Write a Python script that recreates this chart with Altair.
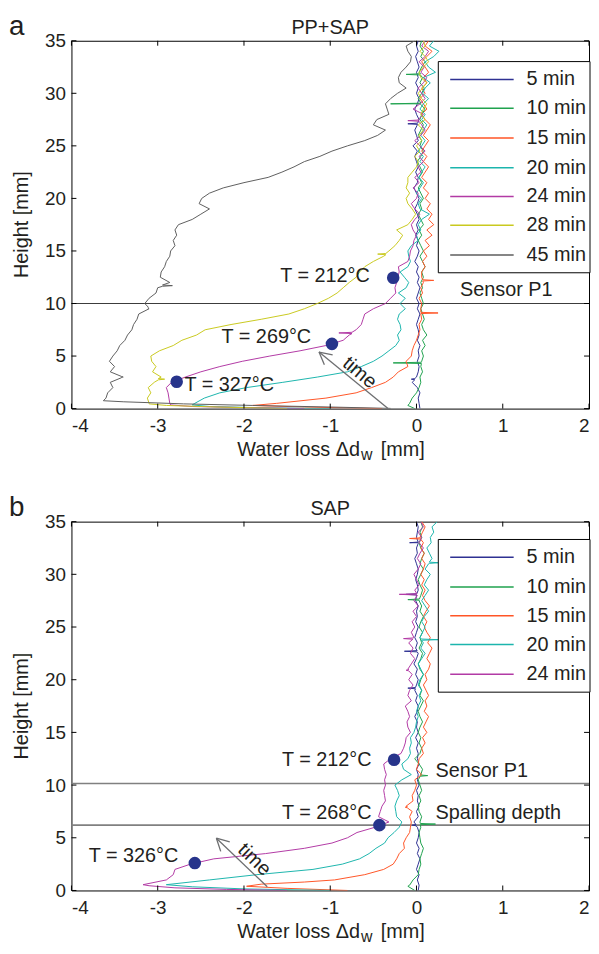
import math
import altair as alt
import pandas as pd

FONT = "Liberation Sans"
TXT = "#231f20"

# ---------------- shared height grid (mm) ----------------
HG = [0.0, 0.5, 1.0, 1.5, 2.0, 2.5, 3.0, 3.5, 4.0, 4.5,
      5.0, 5.5, 6.0, 6.5, 7.0, 7.5, 8.0, 8.5, 9.0, 9.5,
      10.0, 10.5, 11.0, 11.5, 12.0, 12.5, 13.0, 13.5, 14.0, 14.5,
      15.0, 15.5, 16.0, 16.5, 17.0, 17.5, 18.0, 18.5, 19.0, 19.5,
      20.0, 20.5, 21.0, 21.5, 22.0, 22.5, 23.0, 23.5, 24.0, 24.5,
      25.0, 25.5, 26.0, 26.5, 27.0, 27.5, 28.0, 28.5, 29.0, 29.5,
      30.0, 30.5, 31.0, 31.5, 32.0, 32.5, 33.0, 33.5, 34.0, 34.5, 35.0]

X_TICKS = [-4, -3, -2, -1, 0, 1, 2]
Y_TICKS = [0, 5, 10, 15, 20, 25, 30, 35]

NAMES_A = ["5 min", "10 min", "15 min", "20 min", "24 min", "28 min", "45 min"]
NAMES_B = ["5 min", "10 min", "15 min", "20 min", "24 min"]
COLORS = ["#2e3192", "#1fa24e", "#ff5526", "#1cb5ad", "#b23aa5", "#c9c91f", "#5e5e5e"]

# ================= panel a: PP+SAP =================
A05_FH, A05_FX = [], []
A05_X = [0.04, 0.03, 0.02, 0.04, 0.01, -0.05, 0.00, 0.02, 0.03, 0.01,
         0.03, 0.02, 0.04, 0.01, 0.03, 0.02, 0.00, 0.02, 0.04, 0.01,
         0.03, 0.00, 0.02, 0.04, 0.01, 0.03, 0.00, 0.02, -0.02, 0.01,
         0.03, 0.00, 0.02, -0.01, 0.02, 0.00, 0.03, 0.01, -0.02, 0.01,
         0.03, 0.00, -0.03, 0.01, 0.02, -0.01, 0.02, 0.00, -0.02, 0.01,
         -0.04, 0.02, 0.00, -0.02, 0.01, 0.03, 0.00, -0.02, 0.01, 0.03,
         0.00, 0.02, -0.01, 0.02, 0.00, 0.03, 0.01, -0.01, 0.02, 0.00, 0.02]
A05_SH, A05_SX = [2.8, 27.1], [-0.06, -0.10]

A10_FH, A10_FX = [0.0, 0.3], [-0.02, -0.10]
A10_X = [-0.08, -0.05, 0.00, 0.03, 0.05, 0.04, 0.07, 0.05, 0.06, 0.08,
         0.06, 0.10, 0.07, 0.12, 0.08, 0.06, 0.09, 0.07, 0.05, 0.08,
         0.06, 0.04, 0.07, 0.05, 0.08, 0.06, 0.10, 0.07, 0.04, 0.08,
         0.05, 0.02, 0.06, 0.03, 0.08, 0.05, 0.02, 0.06, 0.04, 0.08,
         0.05, 0.02, 0.06, 0.03, 0.07, 0.04, 0.01, 0.05, 0.08, 0.04,
         0.06, 0.02, 0.05, 0.08, 0.04, 0.06, 0.10, 0.05, 0.02, 0.06,
         0.09, 0.04, 0.07, 0.03, 0.06, 0.10, 0.05, 0.08, 0.04, 0.06]
A10_SH, A10_SX = [4.35, 29.0, 31.8], [-0.27, -0.30, -0.12]

A15_FH, A15_FX = [0.0, 0.15, 0.3], [-0.40, -1.30, -1.90]
A15_X = [-1.62, -1.05, -0.70, -0.52, -0.36, -0.27, -0.21, -0.10, -0.12, -0.06,
         -0.05, -0.03, 0.00, 0.02, 0.04, 0.03, 0.06, 0.05, 0.05, 0.06,
         0.03, 0.07, 0.05, 0.08, 0.06, 0.06, 0.10, 0.07, 0.12, 0.08,
         0.15, 0.10, 0.18, 0.12, 0.20, 0.14, 0.18, 0.12, 0.16, 0.10,
         0.14, 0.08, 0.12, 0.06, 0.10, 0.14, 0.08, 0.12, 0.06, 0.10,
         0.14, 0.08, 0.12, 0.16, 0.10, 0.06, 0.12, 0.08, 0.04, 0.10,
         0.06, 0.12, 0.08, 0.14, 0.10, 0.06, 0.12, 0.18, 0.10, 0.14]
A15_SH, A15_SX = [9.1, 12.2], [0.25, 0.20]

A20_FH, A20_FX = [0.0, 0.08, 0.2, 0.35], [-1.00, -1.80, -2.40, -2.60]
A20_X = [-2.57, -2.46, -2.28, -1.97, -1.55, -1.15, -0.80, -0.64, -0.50, -0.40,
         -0.32, -0.24, -0.20, -0.22, -0.18, -0.19, -0.22, -0.20, -0.13, -0.19,
         -0.13, -0.21, -0.12, -0.09, -0.14, -0.19, -0.10, -0.07, -0.09, -0.10,
         -0.06, 0.02, 0.00, 0.05, 0.02, 0.06, 0.15, 0.04, 0.02, 0.06,
         0.00, 0.04, 0.08, 0.03, 0.06, 0.10, 0.04, 0.08, 0.02, 0.06,
         0.10, 0.05, 0.08, 0.12, 0.06, 0.10, 0.04, 0.08, 0.14, 0.07,
         0.10, 0.16, 0.08, 0.22, 0.14, 0.10, 0.20, 0.26, 0.15, 0.20]
A20_SH, A20_SX = [], []

A24_FH, A24_FX = [0.0, 0.1, 0.2, 0.35], [-1.30, -2.00, -2.60, -2.85]
A24_X = [-2.86, -2.87, -2.88, -2.90, -2.84, -2.68, -2.50, -2.28, -2.02, -1.70,
         -1.35, -1.05, -0.85, -0.78, -0.70, -0.64, -0.62, -0.60, -0.50, -0.36,
         -0.30, -0.24, -0.25, -0.23, -0.22, -0.20, -0.21, -0.10, -0.08, -0.07,
         -0.04, -0.03, 0.00, -0.04, -0.06, -0.02, 0.04, -0.02, -0.06, 0.00,
         0.02, -0.04, 0.03, -0.02, 0.05, 0.02, 0.08, 0.03, 0.10, 0.04,
         -0.02, 0.05, 0.10, 0.06, 0.02, 0.08, -0.04, 0.04, 0.10, 0.06,
         0.02, 0.08, 0.12, 0.05, 0.09, 0.03, 0.10, 0.14, 0.06, 0.10]
A24_SH, A24_SX = [7.2, 27.4], [-0.90, -0.10]

A28_FH, A28_FX = [0.0, 0.15, 0.3, 0.45], [-1.50, -2.30, -2.90, -3.10]
A28_X = [-3.10, -3.12, -3.08, -3.11, -3.04, -2.96, -3.06, -3.02, -3.07, -3.08,
         -2.98, -2.82, -2.72, -2.55, -2.45, -2.15, -1.80, -1.48, -1.30, -1.15,
         -1.02, -0.92, -0.85, -0.78, -0.70, -0.66, -0.60, -0.50, -0.38, -0.32,
         -0.25, -0.20, -0.16, -0.23, -0.10, -0.05, -0.01, -0.05, -0.10, -0.12,
         -0.08, -0.12, -0.10, -0.10, -0.05, 0.00, 0.02, -0.02, 0.04, 0.00,
         0.06, 0.03, 0.08, 0.02, 0.10, 0.05, 0.08, 0.12, 0.06, 0.02,
         0.07, 0.12, 0.05, 0.03, 0.08, 0.14, 0.10, 0.04, 0.10, 0.08]
A28_SH, A28_SX = [2.8, 14.7], [-2.92, -0.45]

A45_FH, A45_FX = [0.02, 0.15, 0.3, 0.45, 0.65, 0.75], [-0.30, -1.00, -1.90, -2.70, -3.40, -3.63]
A45_X = [-3.60, -3.58, -3.52, -3.55, -3.42, -3.55, -3.50, -3.56, -3.52, -3.47,
         -3.44, -3.38, -3.35, -3.30, -3.28, -3.24, -3.22, -3.10, -3.15, -3.10,
         -3.02, -3.00, -2.86, -2.97, -2.96, -2.92, -2.90, -2.86, -2.85, -2.80,
         -2.82, -2.78, -2.80, -2.76, -2.60, -2.50, -2.40, -2.52, -2.49, -2.40,
         -2.24, -2.00, -1.72, -1.56, -1.42, -1.30, -1.12, -0.98, -0.80, -0.60,
         -0.45, -0.36, -0.50, -0.46, -0.32, -0.34, -0.36, -0.30, -0.22, -0.12,
         -0.20, -0.21, -0.18, -0.12, -0.07, -0.06, -0.10, -0.12, -0.02]
A45_SH, A45_SX = [3.0, 9.6, 11.7], [-3.40, -3.11, -2.83]

CURVES_A = {
    "5 min": (A05_FH, A05_FX, 0.0, A05_X, A05_SH, A05_SX),
    "10 min": (A10_FH, A10_FX, 0.5, A10_X, A10_SH, A10_SX),
    "15 min": (A15_FH, A15_FX, 0.5, A15_X, A15_SH, A15_SX),
    "20 min": (A20_FH, A20_FX, 0.5, A20_X, A20_SH, A20_SX),
    "24 min": (A24_FH, A24_FX, 0.5, A24_X, A24_SH, A24_SX),
    "28 min": (A28_FH, A28_FX, 0.5, A28_X, A28_SH, A28_SX),
    "45 min": (A45_FH, A45_FX, 1.0, A45_X, A45_SH, A45_SX),
}

A_MARK_X = [-0.27, -0.98, -2.78]
A_MARK_H = [12.45, 6.16, 2.55]
A_TXT = ["T = 212°C", "T = 269°C", "T = 327°C", "Sensor P1"]
A_TXT_X = [-1.58, -2.26, -2.69, 0.505]
A_TXT_H = [12.6, 6.8, 2.2, 11.3]
A_HLINES = [10.0]
A_ARROW = [-0.33, 0.0, -1.13, 5.38]
A_TIME = [-0.66, 3.42]

# ================= panel b: SAP =================
B05_FH, B05_FX = [], []
B05_X = [0.02, 0.03, 0.01, 0.03, 0.00, 0.02, 0.04, 0.01, 0.03, 0.00,
         0.02, 0.03, 0.01, -0.03, 0.02, 0.00, 0.03, 0.01, 0.02, 0.00,
         0.03, 0.01, 0.02, 0.00, 0.03, 0.01, 0.02, 0.00, 0.02, -0.01,
         0.02, 0.00, 0.01, -0.02, 0.01, 0.02, -0.01, 0.01, -0.02, 0.00,
         0.02, -0.01, 0.01, -0.03, 0.00, 0.02, -0.01, 0.01, -0.02, 0.00,
         0.02, -0.01, 0.01, 0.00, 0.02, -0.01, 0.00, 0.02, 0.01, -0.01,
         0.01, 0.02, 0.00, -0.02, 0.01, 0.00, 0.02, 0.00, 0.01, 0.02, 0.00]
B05_SH, B05_SX = [6.2, 19.2, 22.7, 28.1, 33.0], [-0.05, -0.10, -0.14, -0.12, -0.08]

B10_FH, B10_FX = [0.0, 0.4], [-0.02, -0.10]
B10_X = [-0.08, -0.04, 0.02, 0.03, 0.05, 0.04, 0.06, 0.08, 0.05, 0.04,
         0.03, 0.05, 0.04, 0.06, 0.03, 0.02, 0.05, 0.03, 0.06, 0.04,
         0.02, 0.05, 0.07, 0.03, -0.02, 0.04, 0.06, 0.03, 0.05, 0.02,
         0.04, 0.07, 0.04, 0.02, 0.05, 0.08, 0.04, 0.06, 0.03, 0.05,
         0.08, 0.04, 0.02, 0.05, 0.07, 0.03, 0.06, 0.04, 0.07, 0.03,
         0.05, 0.08, 0.04, 0.06, 0.03, 0.05, 0.07, 0.04, 0.02, 0.05,
         0.08, 0.04, 0.06, 0.09, 0.05, 0.03, 0.06, 0.04, 0.07, 0.05]
B10_SH, B10_SX = [6.3, 10.9, 27.6], [0.22, 0.13, -0.10]

B15_FH, B15_FX = [0.0, 0.2, 0.4, 0.6, 0.8], [-0.80, -1.50, -1.97, -1.80, -1.30]
B15_X = [-0.95, -0.60, -0.38, -0.27, -0.23, -0.20, -0.14, -0.15, -0.12, -0.08,
         -0.07, -0.06, -0.08, -0.05, -0.12, -0.04, -0.05, -0.02, 0.00, -0.02,
         0.06, 0.00, 0.02, 0.03, 0.08, 0.06, 0.10, 0.07, 0.12, 0.08,
         0.11, 0.14, 0.09, 0.12, 0.10, 0.14, 0.11, 0.08, 0.12, 0.10,
         0.14, 0.16, 0.12, 0.15, 0.18, 0.13, 0.16, 0.12, 0.09, 0.12,
         0.08, 0.11, 0.15, 0.10, 0.07, 0.10, 0.06, 0.09, 0.05, 0.08,
         0.10, 0.06, 0.09, 0.05, 0.08, 0.04, 0.07, 0.10, 0.06]
B15_SH, B15_SX = [7.9, 33.4], [-0.13, -0.08]

B20_FH, B20_FX = [0.0, 0.15, 0.35, 0.55], [-1.00, -2.00, -2.60, -2.90]
B20_X = [-2.40, -1.85, -1.20, -0.86, -0.66, -0.55, -0.47, -0.37, -0.33, -0.26,
         -0.20, -0.17, -0.23, -0.24, -0.25, -0.23, -0.20, -0.22, -0.25, -0.17,
         -0.06, -0.15, -0.17, -0.10, -0.07, -0.08, -0.06, -0.07, -0.03, -0.01,
         0.00, 0.02, 0.00, 0.02, 0.05, 0.03, 0.06, 0.02, 0.04, 0.08,
         0.05, 0.02, 0.06, 0.10, 0.05, 0.08, 0.04, 0.07, 0.10, 0.06,
         0.09, 0.14, 0.10, 0.06, 0.10, 0.14, 0.09, 0.12, 0.16, 0.10,
         0.14, 0.18, 0.15, 0.12, 0.17, 0.16, 0.20, 0.18, 0.24]
B20_SH, B20_SX = [23.8, 31.1], [0.25, 0.25]

B24_FH, B24_FX = [0.0, 0.1, 0.25, 0.45, 0.55], [-1.50, -2.20, -2.80, -3.10, -3.17]
B24_X = [-2.90, -2.82, -2.80, -2.62, -2.35, -1.75, -1.30, -0.98, -0.80, -0.69,
         -0.48, -0.32, -0.44, -0.42, -0.40, -0.36, -0.37, -0.38, -0.36, -0.37,
         -0.35, -0.37, -0.38, -0.30, -0.18, -0.15, -0.13, -0.12, -0.07, -0.10,
         -0.11, -0.08, -0.10, -0.13, -0.06, -0.10, -0.08, -0.04, -0.09, -0.05,
         -0.10, -0.06, -0.02, -0.07, -0.04, -0.09, -0.03, -0.06, -0.02, -0.05,
         0.00, -0.04, 0.02, -0.03, 0.01, -0.02, 0.03, 0.00, -0.03, 0.02,
         0.05, 0.01, 0.04, 0.08, 0.03, 0.06, 0.02, 0.08, 0.05]
B24_SH, B24_SX = [20.9, 23.9, 28.1], [-0.12, -0.15, -0.20]

CURVES_B = {
    "5 min": (B05_FH, B05_FX, 0.0, B05_X, B05_SH, B05_SX),
    "10 min": (B10_FH, B10_FX, 0.5, B10_X, B10_SH, B10_SX),
    "15 min": (B15_FH, B15_FX, 1.0, B15_X, B15_SH, B15_SX),
    "20 min": (B20_FH, B20_FX, 1.0, B20_X, B20_SH, B20_SX),
    "24 min": (B24_FH, B24_FX, 1.0, B24_X, B24_SH, B24_SX),
}

B_MARK_X = [-0.26, -0.43, -2.57]
B_MARK_H = [12.4, 6.2, 2.6]
B_TXT = ["T = 212°C", "T = 268°C", "T = 326°C", "Sensor P1", "Spalling depth"]
B_TXT_X = [-1.56, -1.56, -3.80, 0.22, 0.22]
B_TXT_H = [12.4, 7.3, 3.3, 11.3, 7.3]
B_HLINES = [10.15, 6.2]
B_ARROW = [-1.73, 0.35, -2.32, 4.96]
B_TIME = [-1.88, 2.92]


# ---------------- helpers ----------------
def interp(pts, h):
    for (h0, x0), (h1, x1) in zip(pts, pts[1:]):
        if h0 <= h <= h1:
            return x0 if h1 == h0 else x0 + (x1 - x0) * (h - h0) / (h1 - h0)
    return pts[-1][1]


def build(curves):
    rows = []
    for name, (fh, fx, start, gx, sh, sx) in curves.items():
        k = HG.index(start)
        pts = list(zip(fh, fx)) + list(zip(HG[k:], gx))
        extra = []
        for h, x in zip(sh, sx):
            b = interp(pts, h)
            extra += [(h - 0.06, b), (h, x), (h + 0.06, b)]
        pts = sorted(pts + extra, key=lambda p: p[0])
        for i, (h, x) in enumerate(pts):
            rows.append({"series": name, "i": i, "x": x, "h": h})
    return pd.DataFrame(rows)


DUMMY = pd.DataFrame({"d": [0]})

XS = alt.Scale(domain=[-4, 2], nice=False, zero=False)
YS = alt.Scale(domain=[0, 35], nice=False, zero=False)
XAX = alt.Axis(values=X_TICKS, ticks=False, domain=False, grid=False,
               labelPadding=8, title=None, labelExpr="'' + datum.value")
YAX = alt.Axis(values=Y_TICKS, ticks=False, domain=False, grid=False,
               labelPadding=6, title=None, labelExpr="'' + datum.value")


def X(field="x"):
    return alt.X(f"{field}:Q", scale=XS, axis=XAX)


def Y(field="h"):
    return alt.Y(f"{field}:Q", scale=YS, axis=YAX)


def label(s, x, y, size, align="left", baseline="alphabetic", color=TXT, angle=0):
    return alt.Chart(DUMMY).mark_text(
        text=s, font=FONT, fontSize=size, align=align, baseline=baseline, color=color,
        angle=angle
    ).encode(x=alt.value(x), y=alt.value(y))


def panel(curves, names, marks_x, marks_h, txts, txt_x, txt_h, hlines, hl_color,
          hl_width, arrow, time_pos, time_angle, title, letter, W, H, leg_top):
    df = build(curves)
    cols = COLORS[:len(names)]

    hl = alt.Chart(pd.DataFrame({"h": hlines})).mark_rule(
        color=hl_color, strokeWidth=hl_width).encode(
        y=Y(), x=alt.value(0), x2=alt.value(W))

    lines = alt.Chart(df).mark_line(strokeWidth=1, clip=True).encode(
        x=X(), y=Y(),
        color=alt.Color("series:N", scale=alt.Scale(domain=names, range=cols), legend=None),
        order="i:Q",
    )

    # arrow ("time")
    x0, y0, x1, y1 = arrow
    sx, sy = W / 6.0, H / 35.0
    dx, dy = (x1 - x0) * sx, (y1 - y0) * sy
    L = math.hypot(dx, dy)
    ux, uy = dx / L, dy / L
    arows = [{"x": x0, "h": y0, "x2": x1, "h2": y1}]
    for s in (1, -1):
        a = math.radians(28) * s
        bx = -ux * math.cos(a) + uy * math.sin(a)
        by = -ux * math.sin(a) - uy * math.cos(a)
        arows.append({"x": x1, "h": y1, "x2": x1 + bx * 14 / sx, "h2": y1 + by * 14 / sy})
    arr = alt.Chart(pd.DataFrame(arows)).mark_rule(color="#6d6e70", strokeWidth=1.3).encode(
        x=X(), y=Y(), x2="x2:Q", y2="h2:Q")
    time_t = alt.Chart(pd.DataFrame({"x": [time_pos[0]], "h": [time_pos[1]]})).mark_text(
        text="time", font=FONT, fontSize=20, angle=time_angle, color=TXT,
        align="center", baseline="middle").encode(x=X(), y=Y())

    mk = alt.Chart(pd.DataFrame({"x": marks_x, "h": marks_h})).mark_point(
        shape="circle", size=160, filled=True, color="#27348b", opacity=1).encode(
        x=X(), y=Y())

    tx = alt.Chart(pd.DataFrame({"x": txt_x, "h": txt_h, "t": txts})).mark_text(
        font=FONT, fontSize=20, align="left", baseline="middle", color=TXT).encode(
        x=X(), y=Y(), text="t:N")

    # inside ticks on all four sides
    xt = pd.DataFrame({"x": X_TICKS})
    yt = pd.DataFrame({"h": Y_TICKS})
    tk = [
        alt.Chart(xt).mark_rule(color="black").encode(
            x=X(), y=alt.value(H), y2=alt.value(H - 5)),
        alt.Chart(xt).mark_rule(color="black").encode(
            x=X(), y=alt.value(0), y2=alt.value(5)),
        alt.Chart(yt).mark_rule(color="black").encode(
            y=Y(), x=alt.value(0), x2=alt.value(5)),
        alt.Chart(yt).mark_rule(color="black").encode(
            y=Y(), x=alt.value(W - 5), x2=alt.value(W)),
    ]

    # legend box drawn by hand (matlab style)
    n = len(names)
    leg = [alt.Chart(DUMMY).mark_rect(fill="white", stroke="black", strokeWidth=1).encode(
        x=alt.value(370), x2=alt.value(523), y=alt.value(leg_top),
        y2=alt.value(leg_top + 18 + 29.5 * (n - 1) + 18))]
    for k, (nm, c) in enumerate(zip(names, cols)):
        yy = round(leg_top + 18 + 29.5 * k)
        leg.append(alt.Chart(DUMMY).mark_rule(color=c, strokeWidth=1.5).encode(
            x=alt.value(382), x2=alt.value(446), y=alt.value(yy)))
        leg.append(label(nm, 459, yy, 20, baseline="middle"))

    # axis titles (x title with subscript)
    ttl = [
        label("Water loss Δd", 291, H + 48, 20, align="right"),
        label("w", 292, H + 52, 16),
        label("[mm]", 312, H + 48, 20),
        label("Height [mm]", -44, H / 2, 20, align="center", angle=270),
    ]
    deco = [
        label(title, W / 2, -7, 20, align="center"),
        label(letter, -63, -6, 28),
    ]

    return alt.layer(hl, lines, arr, time_t, mk, tx, *tk, *leg, *ttl, *deco).properties(
        width=W, height=H)


pa = panel(CURVES_A, NAMES_A, A_MARK_X, A_MARK_H, A_TXT, A_TXT_X, A_TXT_H, A_HLINES,
           "#3a3a3a", 1, A_ARROW, A_TIME, 40, "PP+SAP", "a", 522, 371, 21)
pb = panel(CURVES_B, NAMES_B, B_MARK_X, B_MARK_H, B_TXT, B_TXT_X, B_TXT_H, B_HLINES,
           "#808080", 1.6, B_ARROW, B_TIME, 44, "SAP", "b", 522, 372, 18)

chart = alt.vconcat(pa, pb, spacing=29).resolve_scale(color="independent").properties(
    padding=0, background="white"
).configure_view(stroke="black", strokeWidth=1).configure_axis(
    labelFont=FONT, labelFontSize=19, labelColor=TXT, titleFont=FONT, titleFontSize=20,
    titleFontWeight="normal", titleColor=TXT
)

chart.save("out.html", embed_options={"renderer": "svg", "actions": False})
